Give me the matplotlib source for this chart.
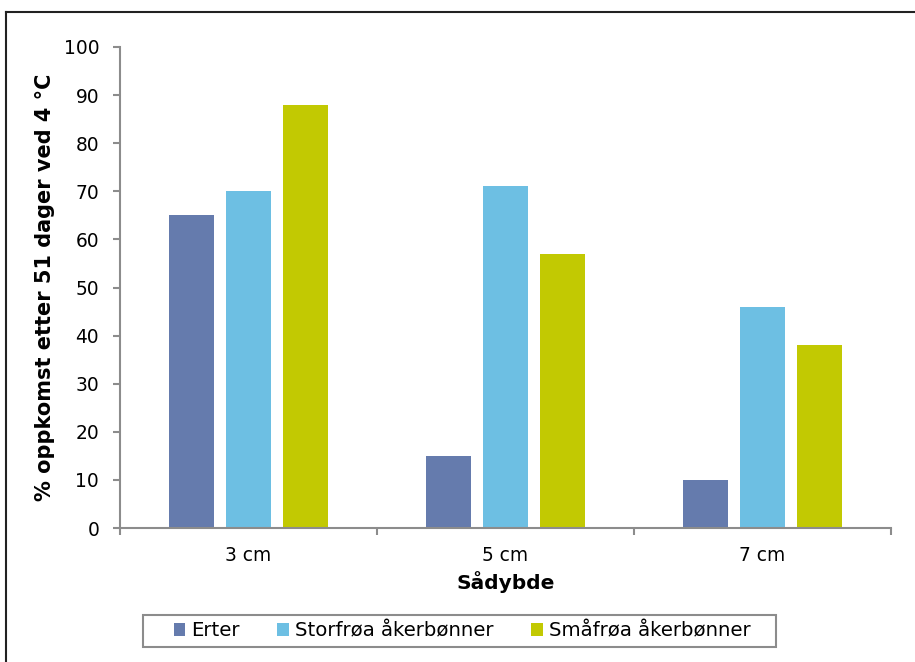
import matplotlib
matplotlib.use('Agg')
import matplotlib.pyplot as plt
import numpy as np
from matplotlib.lines import Line2D
from matplotlib.patches import Rectangle

# --- Data ---
categories = ["3 cm", "5 cm", "7 cm"]
series_names = ["Erter", "Storfrøa åkerbønner", "Småfrøa åkerbønner"]
erter = [65, 15, 10]
storfroa = [70, 71, 46]
smafroa = [88, 57, 38]
yticks = [0, 10, 20, 30, 40, 50, 60, 70, 80, 90, 100]

COLORS = ["#657BAD", "#6DBFE3", "#C2C902"]
AXIS = "#8C8C8C"

plt.rcParams["font.family"] = ["DejaVu Sans"]

fig = plt.figure(figsize=(9.15, 6.62), dpi=100)
ax = fig.add_axes([120 / 915, 1 - 528 / 662, 771 / 915, 481 / 662])

x = np.arange(len(categories))
width = 0.175
step = 0.222
for i, (vals, name) in enumerate(zip([erter, storfroa, smafroa], series_names)):
    ax.bar(x + (i - 1) * step, vals, width=width, color=COLORS[i], label=name, zorder=2)

ax.set_xlim(-0.5, len(categories) - 0.5)
ax.set_ylim(0, 100)
ax.set_yticks(yticks)
ax.set_xticks(x)
ax.set_xticklabels(categories)
ax.set_xticks(np.arange(len(categories) + 1) - 0.5, minor=True)
ax.tick_params(axis="x", which="major", length=0, labelsize=13.4, pad=13)
ax.tick_params(axis="x", which="minor", length=5, width=1.5, color=AXIS, direction="out")
ax.tick_params(axis="y", length=5, width=1.5, color=AXIS, labelsize=13.4, pad=10)

for s in ["top", "right"]:
    ax.spines[s].set_visible(False)
for s in ["left", "bottom"]:
    ax.spines[s].set_color(AXIS)
    ax.spines[s].set_linewidth(1.5)

ax.set_ylabel("% oppkomst etter 51 dager ved 4 °C", fontsize=15, fontweight="bold", labelpad=6)
ax.set_xlabel("Sådybde", fontsize=14.5, fontweight="bold", labelpad=4)

leg = fig.legend(loc="center", bbox_to_anchor=(462 / 915, 1 - 631 / 662), ncol=3,
                 fontsize=14.2, frameon=False,
                 handlelength=0.6, handleheight=0.6, handletextpad=0.3,
                 columnspacing=1.9, borderpad=0.2)

# legend frame drawn separately (wider horizontal padding)
fig.add_artist(Rectangle((143 / 915, 1 - 647 / 662), 633 / 915, 32 / 662,
                         transform=fig.transFigure, fill=False,
                         edgecolor=AXIS, lw=1.5))

# outer chart border (top and left visible)
fig.add_artist(Line2D([6 / 915, 6 / 915], [0, 1 - 12 / 662], color="#222222", lw=1.5))
fig.add_artist(Line2D([6 / 915, 1], [1 - 12 / 662, 1 - 12 / 662], color="#222222", lw=1.5))

fig.savefig("out.png", dpi=100, facecolor="white")
